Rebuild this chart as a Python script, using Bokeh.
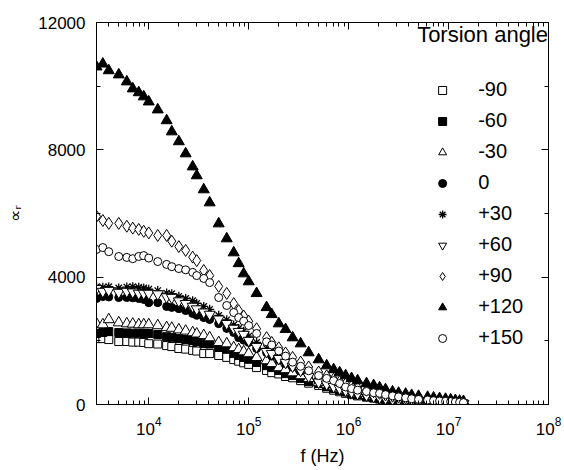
from bokeh.plotting import figure
from bokeh.models import (ColumnDataSource, Range1d, LogAxis, LinearAxis, LogTicker,
                          SingleIntervalTicker, Legend, LegendItem)
from bokeh.embed import file_html
from bokeh.resources import INLINE

freq = [3000, 3470, 3980, 5010, 6030, 6920, 7940, 8910,
        10000, 12300, 15100, 17000, 20000, 23400, 27500, 30200,
        35500, 40700, 50100, 60300, 70800, 79400, 89100, 100000,
        120000, 151000, 170000, 200000, 234000, 275000, 331000, 398000,
        501000, 603000, 708000, 813000, 933000, 1070000, 1230000, 1510000,
        1780000, 2040000, 2340000, 2750000, 3160000, 3720000, 4270000, 5010000,
        6170000, 7080000, 8130000, 9330000, 10500000, 11700000, 12900000, 14100000]

m90 = [2070, 2070, 2040, 1980, 1980, 1960, 1960, 1950,
       1910, 1900, 1850, 1820, 1760, 1740, 1700, 1680,
       1600, 1600, 1540, 1480, 1410, 1360, 1310, 1260,
       1160, 1070, 1000, 960, 880, 840, 750, 670,
       600, 510, 450, 400, 350, 310, 270, 230,
       200, 170, 150, 120, 100, 90, 75, 60,
       50, 45, 40, 35, 30, 25, 20, 20]

m60 = [2230, 2260, 2290, 2260, 2250, 2240, 2240, 2230,
       2230, 2200, 2130, 2110, 2070, 2040, 2010, 1980,
       1910, 1900, 1790, 1760, 1600, 1540, 1480, 1420,
       1320, 1220, 1160, 1070, 970, 910, 820, 720,
       660, 560, 500, 440, 390, 340, 300, 250,
       220, 190, 160, 130, 110, 95, 80, 65,
       55, 48, 42, 36, 32, 28, 24, 22]

m30 = [2540, 2510, 2670, 2570, 2540, 2530, 2510, 2510,
       2510, 2480, 2420, 2400, 2350, 2310, 2260, 2220,
       2170, 2100, 1950, 1910, 1790, 1730, 1660, 1600,
       1480, 1380, 1290, 1160, 1100, 1000, 910, 820,
       690, 630, 560, 500, 440, 390, 340, 290,
       250, 220, 190, 160, 140, 120, 100, 85,
       70, 60, 55, 48, 42, 38, 34, 30]

z0 = [3330, 3390, 3380, 3360, 3360, 3350, 3330, 3300,
      3200, 3200, 3080, 3050, 3010, 2950, 2860, 2800,
      2730, 2670, 2540, 2390, 2260, 2100, 2020, 1950,
      1760, 1630, 1520, 1400, 1290, 1180, 1050, 940,
      800, 700, 620, 550, 480, 420, 370, 310,
      270, 230, 200, 170, 140, 120, 100, 85,
      70, 60, 52, 46, 40, 36, 32, 28]

p30 = [3700, 3680, 3700, 3660, 3690, 3700, 3680, 3660,
       3620, 3580, 3500, 3480, 3400, 3330, 3260, 3180,
       3080, 2990, 2800, 2660, 2500, 2390, 2300, 2150,
       1950, 1760, 1680, 1520, 1390, 1260, 1130, 960,
       780, 690, 600, 530, 470, 410, 360, 300,
       260, 230, 200, 170, 145, 125, 105, 90,
       75, 65, 58, 50, 44, 40, 36, 32]

p60 = [3640, 3550, 3580, 3520, 3550, 3530, 3490, 3490,
       3490, 3470, 3380, 3360, 3250, 3170, 3080, 3000,
       2900, 2830, 2680, 2540, 2390, 2290, 2200, 2010,
       1820, 1660, 1600, 1440, 1320, 1200, 1070, 880,
       700, 640, 560, 500, 440, 390, 340, 290,
       250, 220, 190, 160, 140, 120, 100, 85,
       72, 62, 55, 48, 42, 38, 34, 30]

p90 = [5910, 5780, 5690, 5690, 5600, 5540, 5500, 5440,
       5390, 5310, 5310, 5130, 4960, 4840, 4630, 4520,
       4210, 4050, 3710, 3490, 3170, 2950, 2780, 2620,
       2380, 2100, 1950, 1780, 1620, 1480, 1330, 1180,
       1020, 900, 800, 720, 650, 580, 520, 450,
       400, 350, 300, 260, 230, 200, 170, 150,
       130, 110, 100, 90, 80, 70, 60, 55]

p120 = [10610, 10700, 10490, 10360, 10140, 9920, 9800, 9670,
        9510, 9260, 8920, 8570, 8260, 7880, 7470, 7190,
        6750, 6340, 5680, 5210, 4770, 4430, 4110, 3860,
        3490, 3050, 2830, 2540, 2360, 2100, 1910, 1630,
        1410, 1220, 1100, 1000, 910, 820, 750, 660,
        600, 530, 470, 400, 360, 330, 290, 260,
        230, 210, 190, 170, 150, 130, 110, 100]

p150 = [4870, 4930, 4800, 4650, 4620, 4580, 4650, 4680,
        4600, 4490, 4400, 4330, 4270, 4230, 4150, 4050,
        3960, 3830, 3360, 3110, 2890, 2730, 2620, 2480,
        2230, 1970, 1870, 1680, 1520, 1330, 1200, 1060,
        910, 820, 750, 660, 550, 500, 450, 410,
        370, 350, 310, 270, 240, 210, 180, 160,
        140, 120, 110, 100, 90, 80, 70, 60]

labels = ["-90", "-60", "-30", "0", "+30", "+60", "+90", "+120", "+150"]
series = [m90, m60, m30, z0, p30, p60, p90, p120, p150]
markers = ["square", "square", "triangle", "circle", "asterisk",
           "inverted_triangle", "diamond", "triangle", "circle"]
fills = ["white", "black", "white", "black", None, "white", "white", "black", "white"]
sizes = [8, 8, 11, 8, 9, 11, 12, 11, 8]

FONT = "Liberation Sans"

p = figure(width=562, height=468, x_axis_type="log",
           x_range=Range1d(3000, 1e8), y_range=Range1d(0, 12000),
           output_backend="svg", toolbar_location=None,
           min_border_left=96, min_border_right=14, min_border_top=22,
           min_border_bottom=64)
p.xgrid.visible = False
p.ygrid.visible = False
p.outline_line_color = "black"
p.outline_line_width = 1
p.background_fill_color = "white"
p.border_fill_color = "white"

src = ColumnDataSource(dict(f=freq, **{f"s{i}": s for i, s in enumerate(series)}))

items = []
for i, lab in enumerate(labels):
    kw = dict(x="f", y=f"s{i}", source=src, marker=markers[i], size=sizes[i],
              line_color="black", line_width=1)
    if fills[i] is None:
        kw["fill_alpha"] = 0
        kw["line_width"] = 1.3
    else:
        kw["fill_color"] = fills[i]
    r = p.scatter(**kw)
    items.append(LegendItem(label=lab, renderers=[r]))

def style_axis(ax, labels_on=True):
    ax.major_tick_in = 7
    ax.major_tick_out = 0
    ax.minor_tick_in = 4
    ax.minor_tick_out = 0
    ax.axis_line_color = "black"
    ax.major_tick_line_color = "black"
    ax.minor_tick_line_color = "black"
    ax.major_label_text_font = FONT
    ax.major_label_text_color = "black"
    if labels_on:
        ax.major_label_text_font_size = "17px"
    else:
        ax.major_label_text_font_size = "1px"
        ax.major_label_text_alpha = 0
        ax.major_label_standoff = 0

xax = p.xaxis[0]
xax.ticker = LogTicker(num_minor_ticks=10)
style_axis(xax)
xax.major_label_standoff = 12
xax.axis_label = "f (Hz)"
xax.axis_label_text_font = FONT
xax.axis_label_text_font_size = "18px"
xax.axis_label_text_font_style = "normal"
xax.axis_label_text_color = "black"
xax.axis_label_standoff = 8

yax = p.yaxis[0]
yax.ticker = SingleIntervalTicker(interval=4000, num_minor_ticks=2)
style_axis(yax)
yax.major_label_standoff = 11
yax.axis_label = "\u221d\u1d63"
yax.axis_label_text_font = "DejaVu Sans"
yax.axis_label_text_font_size = "17px"
yax.axis_label_text_font_style = "normal"
yax.axis_label_text_color = "black"
yax.axis_label_standoff = 10

top = LogAxis(ticker=LogTicker(num_minor_ticks=10))
style_axis(top, labels_on=False)
p.add_layout(top, "above")

right = LinearAxis(ticker=SingleIntervalTicker(interval=4000, num_minor_ticks=2))
style_axis(right, labels_on=False)
p.add_layout(right, "right")

legend = Legend(items=items, location="top_right")
legend.title = "Torsion angle"
legend.title_text_font = FONT
legend.title_text_font_size = "22px"
legend.title_text_font_style = "normal"
legend.title_text_color = "black"
legend.title_standoff = 30
legend.label_text_font = FONT
legend.label_text_font_size = "20px"
legend.label_text_color = "black"
legend.glyph_width = 50
legend.glyph_height = 20
legend.label_height = 20
legend.label_standoff = 11
legend.spacing = 8
legend.padding = 9
legend.margin = 0
legend.border_line_color = None
legend.background_fill_alpha = 0
legend.inactive_fill_alpha = 0
p.add_layout(legend)

open("out.html", "w").write(file_html(p, INLINE))
